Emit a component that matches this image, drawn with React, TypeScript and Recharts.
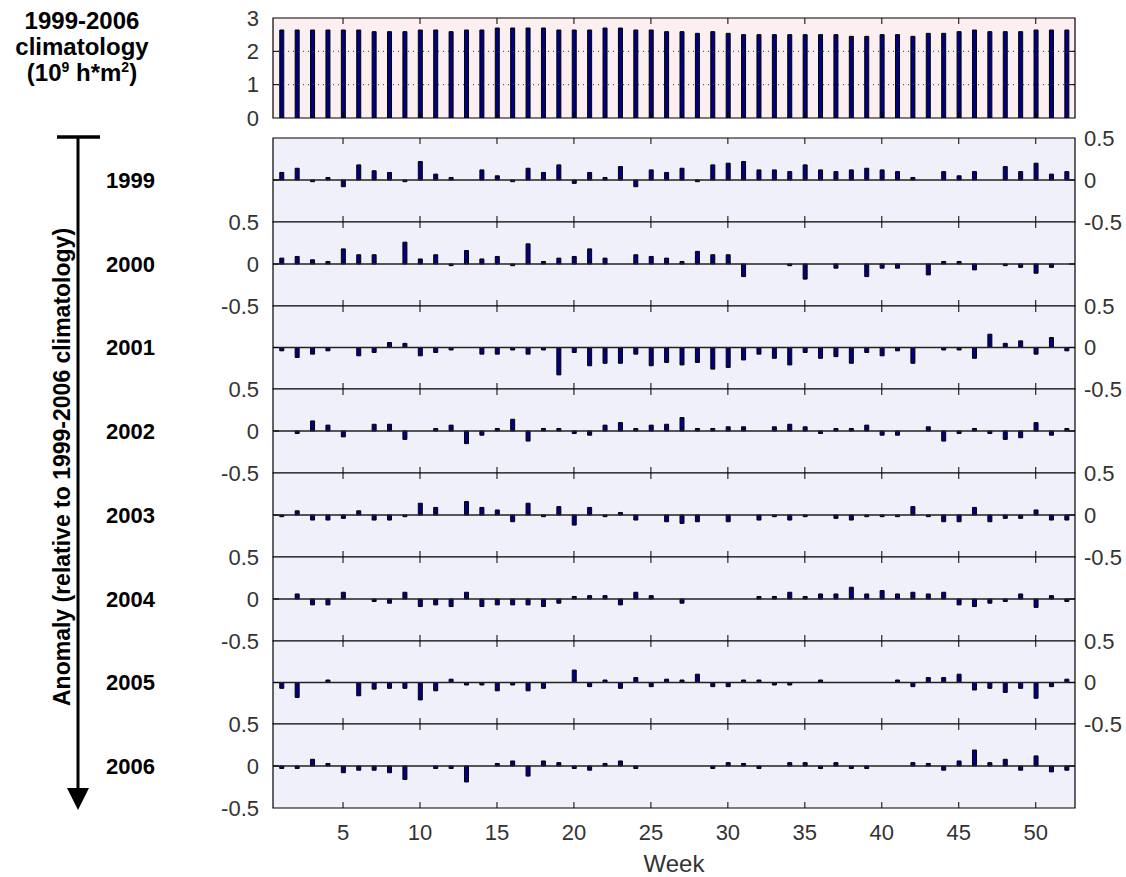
import React from 'react';
import { BarChart, Bar, XAxis, YAxis, CartesianGrid, ReferenceLine, ReferenceArea } from 'recharts';

const WEEKS = [
  1, 2, 3, 4, 5, 6, 7, 8, 9, 10, 11, 12, 13, 14, 15, 16, 17, 18, 19, 20, 21, 22, 23, 24, 25, 26,
  27, 28, 29, 30, 31, 32, 33, 34, 35, 36, 37, 38, 39, 40, 41, 42, 43, 44, 45, 46, 47, 48, 49, 50, 51, 52,
];
const WEEK_TICKS = [5, 10, 15, 20, 25, 30, 35, 40, 45, 50];

// 1999-2006 climatology (10^9 h*m^2)
const CLIM = [
  2.64, 2.64, 2.64, 2.64, 2.64, 2.64, 2.59, 2.59, 2.59, 2.64,
  2.64, 2.59, 2.64, 2.64, 2.7, 2.7, 2.7, 2.7, 2.64, 2.64,
  2.64, 2.7, 2.7, 2.64, 2.64, 2.59, 2.59, 2.54, 2.59, 2.54,
  2.5, 2.5, 2.5, 2.5, 2.5, 2.5, 2.5, 2.45, 2.45, 2.5,
  2.5, 2.45, 2.54, 2.54, 2.59, 2.64, 2.59, 2.59, 2.59, 2.64,
  2.64, 2.64,
];

// weekly anomalies relative to the climatology
const A1999 = [
  0.09, 0.14, -0.02, 0.03, -0.08, 0.18, 0.11, 0.09, -0.02, 0.22,
  0.07, 0.03, 0, 0.12, 0.05, -0.02, 0.14, 0.09, 0.18, -0.04,
  0.09, 0.03, 0.16, -0.08, 0.12, 0.09, 0.14, -0.02, 0.18, 0.2,
  0.22, 0.12, 0.12, 0.1, 0.18, 0.12, 0.1, 0.12, 0.14, 0.12,
  0.1, 0.03, 0, 0.1, 0.05, 0.1, 0, 0.16, 0.1, 0.2,
  0.07, 0.1,
];
const A2000 = [
  0.07, 0.09, 0.05, 0.03, 0.18, 0.11, 0.11, 0, 0.26, 0.06,
  0.11, -0.02, 0.16, 0.06, 0.09, -0.02, 0.24, 0.03, 0.07, 0.09,
  0.18, 0.07, 0, 0.11, 0.09, 0.07, 0.03, 0.15, 0.11, 0.11,
  -0.15, 0, 0, -0.02, -0.18, 0, -0.05, 0, -0.15, -0.05,
  -0.05, 0, -0.13, 0.03, 0.03, -0.07, 0, -0.02, -0.04, -0.11,
  -0.04, 0,
];
const A2001 = [
  -0.04, -0.12, -0.08, -0.04, 0, -0.1, -0.06, 0.06, 0.05, -0.1,
  -0.06, -0.03, 0, -0.08, -0.08, -0.03, -0.08, -0.03, -0.33, -0.06,
  -0.22, -0.19, -0.19, -0.08, -0.22, -0.18, -0.21, -0.18, -0.26, -0.24,
  -0.15, -0.08, -0.13, -0.21, -0.06, -0.13, -0.11, -0.19, -0.06, -0.1,
  -0.04, -0.19, 0, -0.03, -0.03, -0.13, 0.16, 0.05, 0.08, -0.08,
  0.12, -0.04,
];
const A2002 = [
  0, -0.03, 0.12, 0.07, -0.07, 0, 0.08, 0.08, -0.1, 0,
  0.03, 0.07, -0.15, -0.05, 0.03, 0.14, -0.12, 0.03, 0.03, -0.03,
  -0.05, 0.07, 0.1, 0.03, 0.07, 0.08, 0.16, 0.03, 0.03, 0.05,
  0.05, 0, 0.05, 0.08, 0.05, -0.03, 0.03, 0.03, 0.07, -0.05,
  -0.05, 0, 0.05, -0.12, -0.03, 0.03, -0.03, -0.1, -0.08, 0.1,
  -0.05, 0.03,
];
const A2003 = [
  -0.02, 0.05, -0.06, -0.06, -0.04, 0.05, -0.06, -0.06, -0.02, 0.14,
  0.09, 0, 0.16, 0.09, 0.06, -0.08, 0.14, -0.02, 0.1, -0.12,
  0.09, -0.02, 0.03, -0.06, 0, -0.08, -0.1, -0.08, 0, -0.08,
  0, -0.06, -0.02, -0.06, -0.02, 0, -0.04, -0.06, -0.02, -0.02,
  -0.02, 0.1, -0.02, -0.08, -0.08, 0.09, -0.08, -0.04, -0.04, 0.06,
  -0.06, -0.06,
];
const A2004 = [
  0, 0.06, -0.07, -0.07, 0.08, 0, -0.03, -0.05, 0.08, -0.09,
  -0.07, -0.09, 0.08, -0.09, -0.07, -0.07, -0.07, -0.09, -0.05, 0.03,
  0.04, 0.04, -0.07, 0.08, 0.04, 0, -0.05, 0, 0, 0,
  0, 0.03, 0.03, 0.08, 0.03, 0.06, 0.06, 0.14, 0.06, 0.1,
  0.06, 0.08, 0.06, 0.08, -0.07, -0.09, -0.05, -0.03, 0.06, -0.1,
  0.04, -0.03,
];
const A2005 = [
  -0.07, -0.18, 0, 0.03, 0, -0.16, -0.08, -0.07, -0.07, -0.21,
  -0.1, 0.04, -0.03, -0.03, -0.1, -0.03, -0.1, -0.07, 0, 0.15,
  -0.05, 0.03, -0.07, 0.06, -0.05, 0.04, 0.03, 0.1, -0.05, -0.05,
  0.03, 0.03, -0.03, -0.03, 0, 0.03, 0, 0, 0, 0,
  0.03, -0.05, 0.06, 0.06, 0.1, -0.09, -0.07, -0.12, -0.07, -0.19,
  -0.05, 0.04,
];
const A2006 = [
  -0.03, -0.03, 0.08, 0.03, -0.08, -0.05, -0.05, -0.08, -0.16, 0,
  -0.03, -0.03, -0.19, 0, 0.03, 0.06, -0.12, 0.06, 0.04, -0.03,
  -0.05, 0.03, 0.06, -0.03, 0, 0, 0, 0, -0.03, 0.04,
  0.03, -0.03, 0, 0.04, 0.04, -0.03, 0.04, -0.03, -0.03, 0,
  0, 0.04, 0.03, -0.05, 0.06, 0.19, 0.04, 0.08, -0.05, 0.12,
  -0.07, -0.05,
];

const YEARS = ['1999', '2000', '2001', '2002', '2003', '2004', '2005', '2006'];
const ANOMALIES = [A1999, A2000, A2001, A2002, A2003, A2004, A2005, A2006];
// which side carries the y tick labels, per year panel
const LABEL_SIDE = ['right', 'left', 'right', 'left', 'right', 'left', 'right', 'left'];

const CLIM_TICKS = [0, 1, 2, 3];
const ANOM_TICKS = [-0.5, 0, 0.5];

const DATA = WEEKS.map((week, i) => {
  const row: Record<string, number> = { week, clim: CLIM[i] };
  YEARS.forEach((y, k) => {
    row['y' + y] = ANOMALIES[k][i];
  });
  return row;
});

const W = 1126;
const PLOT_L = 273;
const PLOT_R = 1075;
const X_DOMAIN: [number, number] = [0.45, 52.55];
const TOP_Y = 18;
const TOP_H = 100;
const ANOM_Y = 138;
const ANOM_H = 83.75;
const FONT = '"Liberation Sans", Arial, Helvetica, sans-serif';
const tickStyle = { fill: '#333', fontSize: 22, fontFamily: FONT };
const TICK_PX = 6;

interface PanelProps {
  top: number;
  height: number;
  dataKey: string;
  domain: [number, number];
  yTicks: number[];
  side: string;
  bg: string;
  xLabels?: boolean;
  dotted?: boolean;
}

function Panel({ top, height, dataKey, domain, yTicks, side, bg, xLabels, dotted }: PanelProps) {
  const padT = 16;
  const padB = xLabels ? 40 : 16;
  const h = height + padT + padB;
  const [lo, hi] = domain;
  // inward tick lengths, in data units
  const ty = (TICK_PX / height) * (hi - lo);
  const tx = (TICK_PX / (PLOT_R - PLOT_L)) * (X_DOMAIN[1] - X_DOMAIN[0]);
  const innerY = yTicks.filter((v) => v > lo && v < hi);
  return (
    <div style={{ position: 'absolute', left: 0, top: top - padT, width: W, height: h }}>
      <BarChart width={W} height={h} data={DATA} margin={{ top: padT, right: 0, bottom: padB - 1, left: 0 }}>
        <CartesianGrid fill={bg} horizontal={false} vertical={false} />
        <XAxis
          dataKey="week"
          type="number"
          domain={X_DOMAIN}
          ticks={WEEK_TICKS}
          allowDataOverflow
          interval={0}
          height={1}
          tickSize={0}
          tickMargin={16}
          tick={xLabels ? tickStyle : false}
          axisLine={false}
          tickLine={false}
        />
        <YAxis
          domain={domain}
          ticks={yTicks}
          allowDataOverflow
          interval={0}
          width={PLOT_L}
          tickSize={0}
          tickMargin={14}
          tick={side === 'left' ? tickStyle : false}
          axisLine={false}
          tickLine={false}
        />
        <YAxis
          yAxisId="right"
          orientation="right"
          domain={domain}
          ticks={yTicks}
          allowDataOverflow
          interval={0}
          width={W - PLOT_R}
          tickSize={0}
          tickMargin={9}
          tick={side === 'right' ? tickStyle : false}
          axisLine={false}
          tickLine={false}
        />
        {dotted &&
          innerY.map((v) => <ReferenceLine key={'g' + v} y={v} stroke="#333" strokeDasharray="1 4" />)}
        <Bar dataKey={dataKey} barSize={4} fill="#000080" stroke="#000" strokeWidth={1} isAnimationActive={false} />
        {!dotted && <ReferenceLine y={0} stroke="#222" strokeWidth={1.5} />}
        {WEEK_TICKS.map((t) => (
          <ReferenceLine
            key={'tt' + t}
            segment={[{ x: t, y: hi }, { x: t, y: hi - ty }]}
            stroke="#000"
          />
        ))}
        {WEEK_TICKS.map((t) => (
          <ReferenceLine
            key={'tb' + t}
            segment={[{ x: t, y: lo }, { x: t, y: lo + ty }]}
            stroke="#000"
          />
        ))}
        {innerY.map((v) => (
          <ReferenceLine
            key={'yl' + v}
            segment={[{ x: X_DOMAIN[0], y: v }, { x: X_DOMAIN[0] + tx, y: v }]}
            stroke="#000"
          />
        ))}
        {innerY.map((v) => (
          <ReferenceLine
            key={'yr' + v}
            segment={[{ x: X_DOMAIN[1] - tx, y: v }, { x: X_DOMAIN[1], y: v }]}
            stroke="#000"
          />
        ))}
        <ReferenceArea
          x1={X_DOMAIN[0]}
          x2={X_DOMAIN[1]}
          y1={lo}
          y2={hi}
          fill="none"
          stroke="#000"
          strokeWidth={1.2}
          ifOverflow="visible"
        />
      </BarChart>
    </div>
  );
}

export default function App() {
  const bold = { fontFamily: FONT, fontWeight: 700, fill: '#000' };
  return (
    <div style={{ position: 'absolute', left: 0, top: 0, width: W, height: 877, background: '#fff' }}>
      <Panel
        top={TOP_Y}
        height={TOP_H}
        dataKey="clim"
        domain={[0, 3]}
        yTicks={CLIM_TICKS}
        side="left"
        bg="#FCEFEF"
        dotted
      />
      {YEARS.map((y, k) => {
        const t0 = Math.round(ANOM_Y + k * ANOM_H);
        const t1 = Math.round(ANOM_Y + (k + 1) * ANOM_H);
        return (
          <Panel
            key={y}
            top={t0}
            height={t1 - t0}
            dataKey={'y' + y}
            domain={[-0.5, 0.5]}
            yTicks={ANOM_TICKS}
            side={LABEL_SIDE[k]}
            bg="#F0F0FA"
            xLabels={k === YEARS.length - 1}
          />
        );
      })}
      <svg width={W} height={877} style={{ position: 'absolute', left: 0, top: 0, pointerEvents: 'none' }}>
        <text x={82} y={29} textAnchor="middle" fontSize={24} {...bold}>1999-2006</text>
        <text x={82} y={55} textAnchor="middle" fontSize={24} {...bold}>climatology</text>
        <text x={82} y={81} textAnchor="middle" fontSize={24} {...bold}>
          (10<tspan fontSize={14} dy={-9}>9</tspan>
          <tspan dy={9}> h*m</tspan>
          <tspan fontSize={14} dy={-9}>2</tspan>
          <tspan dy={9}>)</tspan>
        </text>
        <line x1={57} y1={137} x2={100} y2={137} stroke="#000" strokeWidth={3.5} />
        <line x1={78} y1={137} x2={78} y2={792} stroke="#000" strokeWidth={3} />
        <polygon points="67,788 89,788 78,810" fill="#000" />
        <text
          x={62}
          y={467}
          transform="rotate(-90 62 467)"
          textAnchor="middle"
          dominantBaseline="central"
          fontSize={23}
          {...bold}
        >
          Anomaly (relative to 1999-2006 climatology)
        </text>
        {YEARS.map((y, k) => (
          <text key={y} x={106} y={ANOM_Y + k * ANOM_H + ANOM_H / 2 + 8} fontSize={22} {...bold}>
            {y}
          </text>
        ))}
        <text x={(PLOT_L + PLOT_R) / 2} y={872} textAnchor="middle" fontSize={24} fontFamily={FONT} fill="#333">
          Week
        </text>
      </svg>
    </div>
  );
}
